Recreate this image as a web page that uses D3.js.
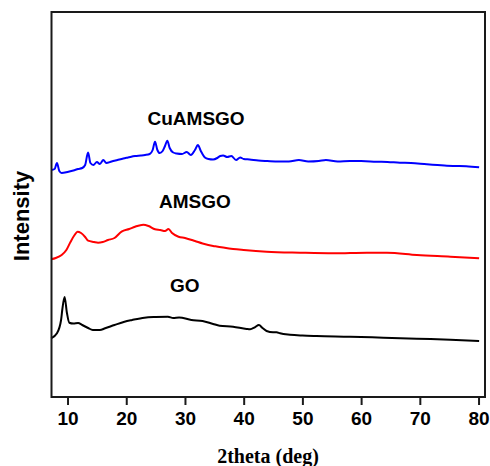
<!DOCTYPE html>
<html>
<head>
<meta charset="utf-8">
<script src="https://cdn.jsdelivr.net/npm/d3@7"></script>
<style>
  html, body { margin: 0; padding: 0; background: #fff; }
  svg { display: block; }
</style>
</head>
<body>
<svg id="chart" width="490" height="466"></svg>
<script>
// 2theta (deg) and intensity (a.u.)
const cuamsgoTheta = [7.2,7.8,8.2,8.6,9.0,10.0,11.0,11.8,12.5,13.0,13.5,13.9,14.4,15.0,15.5,16.1,16.6,17.5,18.5,19.5,20.3,21.5,22.5,23.2,24.0,24.5,24.9,25.3,25.7,26.2,26.6,27.0,27.4,28.0,28.6,29.5,30.3,31.0,31.7,32.2,32.7,33.4,34.0,34.8,35.5,36.0,36.5,37.2,37.9,38.7,39.4,40.0,41.0,42.5,44.0,46.0,47.7,49.4,51.0,52.8,54.0,56.0,58.1,60.0,62.6,64.5,66.6,68.5,71.2,73.0,74.6,76.0,77.9,80.1];
const cuamsgoI = [2270,2280,2340,2260,2240,2250,2265,2280,2290,2320,2445,2340,2320,2350,2330,2370,2340,2355,2370,2385,2395,2410,2415,2420,2430,2470,2553,2470,2440,2460,2510,2563,2490,2445,2435,2430,2450,2420,2470,2520,2460,2395,2380,2375,2390,2410,2415,2400,2410,2370,2395,2380,2375,2365,2360,2355,2355,2370,2355,2360,2370,2355,2360,2360,2353,2350,2343,2340,2327,2320,2313,2310,2307,2297];

const amsgoTheta = [7.2,8.0,9.0,9.8,10.5,11.2,11.7,12.3,13.0,13.5,14.5,15.2,16.0,16.9,18.0,19.2,20.5,21.5,22.9,23.8,24.9,25.8,26.6,27.2,27.8,28.9,30.0,31.7,33.0,34.8,35.4,38.2,40.0,43.9,49.6,55.3,61.0,64.4,69.5,75.2,80.1];
const amsgoI = [1377,1390,1420,1470,1550,1620,1653,1640,1600,1563,1550,1543,1550,1570,1590,1653,1680,1703,1723,1710,1677,1670,1660,1680,1640,1603,1590,1560,1535,1510,1505,1480,1470,1453,1443,1437,1443,1443,1420,1403,1387];

const goTheta = [7.2,8.2,8.9,9.1,9.5,9.9,10.3,11.0,11.8,12.5,13.5,14.3,15.5,16.4,18.0,19.7,21.0,23.1,25.0,27.1,28.0,29.0,31.1,33.0,34.8,35.9,38.2,40.5,41.1,41.9,42.6,43.2,43.9,45.0,45.6,46.2,47.9,50.0,52.4,58.1,63.8,69.5,75.2,80.1];
const goI = [587,637,770,870,1000,840,743,735,740,720,690,670,670,687,720,753,770,793,800,803,790,795,770,760,730,713,703,680,677,697,720,690,660,647,648,637,623,615,610,603,593,583,573,560];

const seriesNames = ["CuAMSGO", "AMSGO", "GO"];
const seriesColors = ["#0000ff", "#ff0000", "#000000"];
const xTicks = [10, 20, 30, 40, 50, 60, 70, 80];
const xDomain = [7.27, 81.1];
const yDomain = [0, 3850];
const xTitle = "2theta (deg)";
const yTitle = "Intensity";

const svg = d3.select("#chart");
const L = 51.5, R = 485, T = 12, B = 397;

const x = d3.scaleLinear().domain(xDomain).range([L, R]);
const y = d3.scaleLinear().domain(yDomain).range([B, T]);

const series = [
  { name: seriesNames[0], color: seriesColors[0], pts: cuamsgoTheta.map((t, i) => [t, cuamsgoI[i]]) },
  { name: seriesNames[1], color: seriesColors[1], pts: amsgoTheta.map((t, i) => [t, amsgoI[i]]) },
  { name: seriesNames[2], color: seriesColors[2], pts: goTheta.map((t, i) => [t, goI[i]]) }
];

const line = d3.line().x(d => x(d[0])).y(d => y(d[1])).curve(d3.curveMonotoneX);

svg.append("g").selectAll("path").data(series).join("path")
  .attr("d", d => line(d.pts))
  .attr("fill", "none")
  .attr("stroke", d => d.color)
  .attr("stroke-width", 2)
  .attr("stroke-linejoin", "round");

// series labels
const labelPos = [[147.5, 125], [159, 207.5], [170, 291.5]];
svg.append("g").selectAll("text").data(series).join("text")
  .attr("x", (d, i) => labelPos[i][0])
  .attr("y", (d, i) => labelPos[i][1])
  .attr("font-family", "Liberation Sans, Arial, sans-serif")
  .attr("font-weight", "bold")
  .attr("font-size", 19)
  .attr("fill", "#000")
  .text(d => d.name);

// frame
svg.append("rect")
  .attr("x", L).attr("y", T)
  .attr("width", R - L).attr("height", B - T)
  .attr("fill", "none")
  .attr("stroke", "#1a1a1a")
  .attr("stroke-width", 2);

// x axis
const xAxis = d3.axisBottom(x).tickValues(xTicks).tickSize(8).tickPadding(6.5).tickFormat(d3.format("d"));
const gx = svg.append("g").attr("transform", `translate(0,${B})`).call(xAxis);
gx.select(".domain").remove();
gx.selectAll(".tick line").attr("stroke", "#1a1a1a").attr("stroke-width", 2);
gx.selectAll(".tick text")
  .attr("font-family", "Liberation Sans, Arial, sans-serif")
  .attr("font-weight", "bold")
  .attr("font-size", 19)
  .attr("fill", "#000");

svg.append("text")
  .attr("x", 268).attr("y", 463)
  .attr("text-anchor", "middle")
  .attr("font-family", "Liberation Serif, Times New Roman, serif")
  .attr("font-weight", "bold")
  .attr("font-size", 20)
  .attr("fill", "#000")
  .text(xTitle);

svg.append("text")
  .attr("transform", "translate(29,216) rotate(-90)")
  .attr("text-anchor", "middle")
  .attr("font-family", "Liberation Sans, Arial, sans-serif")
  .attr("font-weight", "bold")
  .attr("font-size", 22)
  .attr("fill", "#000")
  .text(yTitle);
</script>
</body>
</html>
